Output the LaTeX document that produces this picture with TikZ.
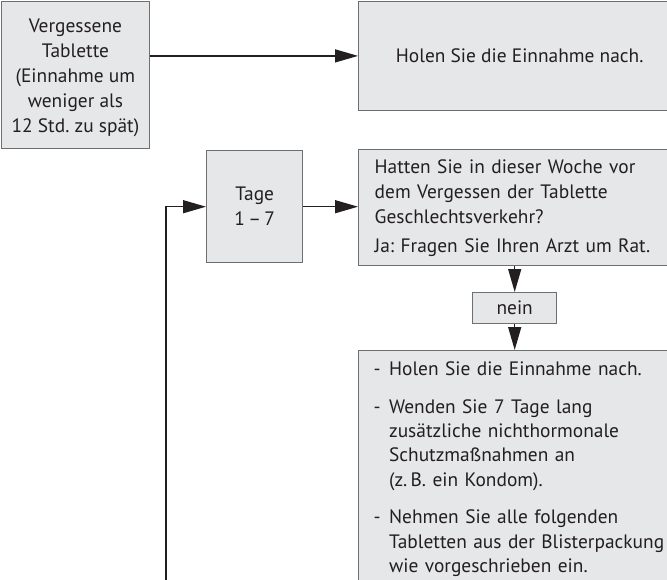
\documentclass[tikz,border=0pt]{standalone}
\usepackage{fontspec}
\setmainfont{PT Sans}
\usetikzlibrary{positioning}
\usetikzlibrary{arrows.meta,shapes}
\usetikzlibrary{calc}

\definecolor{boxgray}{RGB}{230,231,232}
\definecolor{linegray}{RGB}{110,111,113}
\definecolor{inkgray}{RGB}{35,31,32}

% one "- ..." entry with hanging indent
\newcommand{\dashitem}[1]{\par\hangindent=7.7pt\hangafter=1\noindent\makebox[7.7pt][l]{-}#1\par}

\begin{document}
\begin{tikzpicture}[x=0.5pt, y=-0.5pt,
    box/.style={rectangle, draw=linegray, fill=boxgray, line width=0.7pt,
      anchor=north west, text=inkgray,
      font=\fontsize{9.7pt}{12.5pt}\selectfont\frenchspacing},
    conn/.style={draw=inkgray, line width=0.65pt,
      -{Triangle[length=11.5pt,width=6.5pt]}}]

  % page frame (the boxes on the right run off the edge)
  \useasboundingbox (0,0) rectangle (667,579);
  \clip (0,0) rectangle (667,579);

  \def\wide{161pt};

  %first row
  \node[box, minimum width=74pt, minimum height=73.5pt, align=center] (forgot) at (0.7,0.7)
    {\rule{0pt}{10pt}Vergessene\\Tablette\\(Einnahme um\\weniger als\\12 Std. zu spät)};
  \node[box, minimum width=\wide, minimum height=54.5pt] (catchup) at (358,0.7)
    {Holen Sie die Einnahme nach.};

  %second row
  \node[box, minimum width=48pt, minimum height=56pt, align=center] (days) at (206,150)
    {Tage\\1\,–\,7};
  \node[box, minimum width=\wide, minimum height=58pt, text width=145pt,
        inner xsep=8pt, align=left] (question) at (358,149)
    {Hatten Sie in dieser Woche vor\\dem Vergessen der Tablette\\Geschlechtsverkehr?\\[2pt]Ja: Fragen Sie Ihren Arzt um Rat.};

  %answer and steps (box runs on below the page)
  \node[box, minimum width=\wide, minimum height=50pt, text width=146pt,
        inner xsep=7.5pt, inner ysep=0.3pt,
        font=\fontsize{9.7pt}{12.2pt}\selectfont\frenchspacing] (steps) at (358,350)
    {\dashitem{Holen Sie die Einnahme nach.}%
     \vskip6.5pt
     \dashitem{Wenden Sie 7 Tage lang\newline zusätzliche nichthormonale\newline Schutzmaßnahmen an\newline (z.\,B. ein Kondom).}%
     \vskip6.5pt
     \dashitem{Nehmen Sie alle folgenden\newline Tabletten aus der Blisterpackung\newline wie vorgeschrieben ein.}%
     \vskip12pt\hrule height 0pt};
  \node[box, minimum width=42pt, minimum height=15.5pt, inner sep=1pt] (no) at (472,292) {nein};

  %arrows
  \draw[conn] (catchup.west -| forgot.east) -- (catchup.west);
  \draw[conn] (days.east) -- (days.east -| question.west);
  \draw[conn] (question.south -| no.north) -- (no.north);
  \draw[conn] (no.south) -- (no.south |- steps.north);

  %loop back from below
  \coordinate (loopin) at (166,600);
  \draw[conn] (loopin) |- (days.west);

\end{tikzpicture}
\end{document}
